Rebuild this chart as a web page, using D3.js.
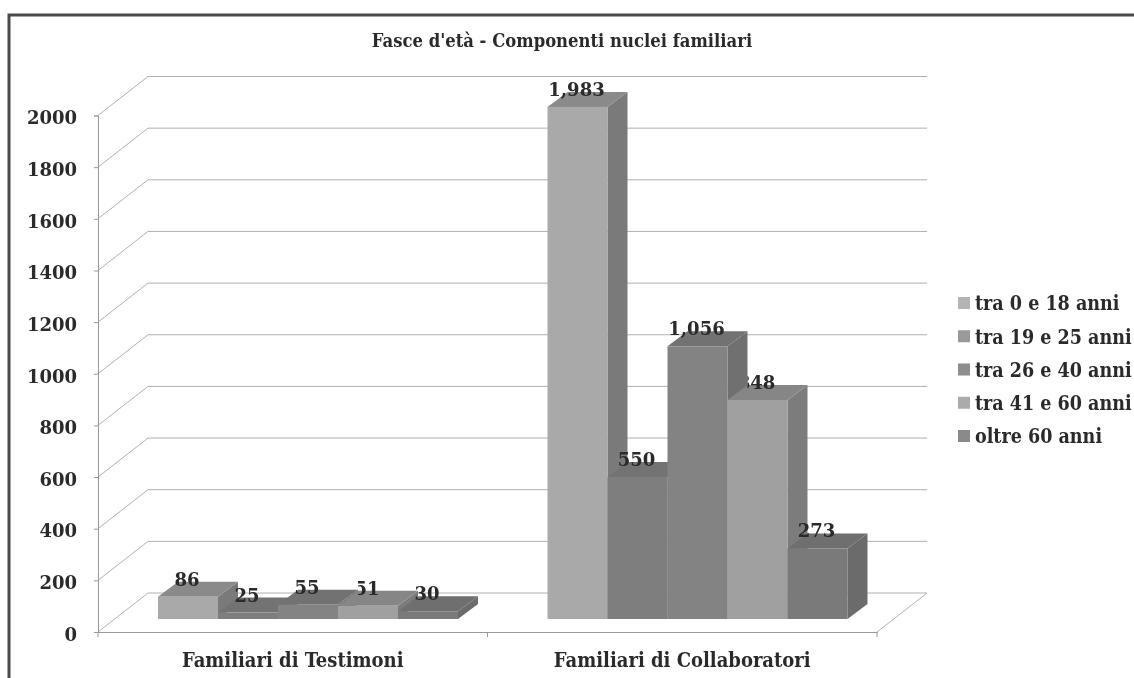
<!DOCTYPE html>
<html>
<head>
<meta charset="utf-8">
<script src="https://cdn.jsdelivr.net/npm/d3@7"></script>
<style>
  html, body { margin: 0; padding: 0; background: #fff; overflow: hidden; }
  svg { display: block; filter: blur(0.5px); }
  text { font-family: "DejaVu Serif", serif; font-weight: bold; fill: #2a2a2a; }
</style>
</head>
<body>
<script>
var categories = ["Familiari di Testimoni", "Familiari di Collaboratori"];
var seriesNames = ["tra 0 e 18 anni", "tra 19 e 25 anni", "tra 26 e 40 anni", "tra 41 e 60 anni", "oltre 60 anni"];
var testimoni = [86, 25, 55, 51, 30];
var collaboratori = [1983, 550, 1056, 848, 273];
var seriesColors = ["#a9a9a9", "#7e7e7e", "#838383", "#a0a0a0", "#7a7a7a"];
var topColors = ["#8a8a8a", "#737373", "#727272", "#868686", "#6f6f6f"];
var sideColors = ["#7a7a7a", "#6f6f6f", "#707070", "#7c7c7c", "#6b6b6b"];
var legendColors = ["#b4b4b4", "#9a9a9a", "#8e8e8e", "#ababab", "#8a8a8a"];
var yTicks = d3.range(0, 2001, 200);

var width = 1134, height = 678;

// wall depth and bar depth of the fake 3D box
var wall = { dx: 50, dy: -39 };
var bar = { dx: 20, dy: -15 };
var floorGap = { dx: 60, dy: -13 };
var condensed = "'DejaVu Serif Condensed', 'DejaVu Serif', serif";

var svg = d3.select("body").append("svg")
    .attr("width", width)
    .attr("height", height);

// scanned page border, top and left only
svg.append("path")
    .attr("d", "M9,678V15H1134")
    .attr("fill", "none")
    .attr("stroke", "#4a4a4a")
    .attr("stroke-width", 3);

svg.append("text")
    .attr("x", 562)
    .attr("y", 47)
    .attr("text-anchor", "middle")
    .attr("font-size", 18.3)
    .style("font-family", condensed)
    .text("Fasce d'età - Componenti nuclei familiari");

var y = d3.scaleLinear().domain([0, 2000]).range([632, 115.5]);
var x0 = d3.scaleBand().domain(categories).range([98, 877]);
var x1 = d3.scaleBand().domain(seriesNames).range([0, 300]);

// walls and gridlines
var grid = svg.append("g")
    .attr("fill", "none")
    .attr("stroke", "#b0b0b0")
    .attr("stroke-width", 1);

grid.selectAll("path")
    .data(yTicks)
    .join("path")
    .attr("d", function (d) {
        var p = d3.path();
        p.moveTo(x0.range()[0], y(d));
        p.lineTo(x0.range()[0] + wall.dx, y(d) + wall.dy);
        p.lineTo(x0.range()[1] + wall.dx, y(d) + wall.dy);
        return p.toString();
    });

grid.append("path")
    .attr("d", function () {
        var p = d3.path();
        p.moveTo(x0.range()[1], y(0));
        p.lineTo(x0.range()[1] + wall.dx, y(0) + wall.dy);
        return p.toString();
    });

// axes
var yAxis = d3.axisLeft(y).tickValues(yTicks).tickSize(4).tickPadding(17).tickFormat(d3.format("d"));
var gy = svg.append("g")
    .attr("transform", "translate(" + x0.range()[0] + ",0)")
    .call(yAxis);
gy.select(".domain").attr("stroke", "#999");
gy.selectAll(".tick line").attr("stroke", "#999");
gy.selectAll("text")
    .attr("font-size", 18)
    .attr("dy", "0.46em")
    .style("font-family", "'DejaVu Serif', serif");

var xAxis = d3.axisBottom(x0).tickSize(0).tickPadding(21);
var gx = svg.append("g")
    .attr("transform", "translate(0," + y(0) + ")")
    .call(xAxis);
gx.select(".domain").attr("stroke", "#999");
gx.selectAll("text")
    .attr("font-size", 20)
    .style("font-family", condensed);

svg.append("g")
    .attr("stroke", "#999")
    .selectAll("line")
    .data([x0.range()[0], x0.range()[0] + x0.bandwidth(), x0.range()[1]])
    .join("line")
    .attr("x1", function (d) { return d; })
    .attr("x2", function (d) { return d; })
    .attr("y1", y(0))
    .attr("y2", y(0) + 5);

// one row per bar
var rows = [];
categories.forEach(function (c, ci) {
    var values = ci === 0 ? testimoni : collaboratori;
    values.forEach(function (v, i) {
        rows.push({ cat: c, name: seriesNames[i], index: i, value: v, prev: i > 0 ? values[i - 1] : 0 });
    });
});

function left(d) { return x0(d.cat) + floorGap.dx + x1(d.name); }
function topY(d) { return y(d.value) + floorGap.dy; }
function baseY() { return y(0) + floorGap.dy; }

var bars = svg.append("g").selectAll("g")
    .data(rows)
    .join("g");

bars.append("path") // side
    .attr("fill", function (d) { return sideColors[d.index]; })
    .attr("d", function (d) {
        var r = left(d) + x1.bandwidth();
        return "M" + r + "," + topY(d) +
            "L" + (r + bar.dx) + "," + (topY(d) + bar.dy) +
            "L" + (r + bar.dx) + "," + (baseY() + bar.dy) +
            "L" + r + "," + baseY() + "Z";
    });

bars.append("path") // top
    .attr("fill", function (d) { return topColors[d.index]; })
    .attr("d", function (d) {
        var l = left(d), r = l + x1.bandwidth();
        return "M" + l + "," + topY(d) +
            "L" + (l + bar.dx) + "," + (topY(d) + bar.dy) +
            "L" + (r + bar.dx) + "," + (topY(d) + bar.dy) +
            "L" + r + "," + topY(d) + "Z";
    });

bars.append("rect") // front
    .attr("x", left)
    .attr("y", topY)
    .attr("width", x1.bandwidth())
    .attr("height", function (d) { return baseY() - topY(d); })
    .attr("fill", function (d) { return seriesColors[d.index]; });

// the 4th series label runs behind the side of the taller bar before it
var defs = svg.append("defs");
rows.forEach(function (d, i) {
    if (d.index === 3 && d.prev > d.value) {
        d.clip = "lab" + i;
        defs.append("clipPath").attr("id", d.clip)
            .append("rect")
            .attr("x", left(d) + bar.dx)
            .attr("y", 0)
            .attr("width", x1.bandwidth())
            .attr("height", height);
    }
});

svg.append("g").selectAll("text")
    .data(rows)
    .join("text")
    .attr("x", function (d) { return left(d) + x1.bandwidth() / 2 - 1; })
    .attr("y", function (d) { return topY(d) + bar.dy + 4; })
    .attr("text-anchor", "middle")
    .attr("font-size", 18)
    .attr("clip-path", function (d) { return d.clip ? "url(#" + d.clip + ")" : null; })
    .text(function (d) { return d3.format(",")(d.value); });

// legend
var legendY = d3.scalePoint().domain(seriesNames).range([303, 436]);
var legend = svg.append("g").selectAll("g")
    .data(seriesNames)
    .join("g")
    .attr("transform", function (d) { return "translate(958," + legendY(d) + ")"; });

legend.append("rect")
    .attr("x", 0)
    .attr("y", -6)
    .attr("width", 12)
    .attr("height", 12)
    .attr("fill", function (d, i) { return legendColors[i]; });

legend.append("text")
    .attr("x", 17)
    .attr("dy", "0.38em")
    .attr("font-size", 19.5)
    .style("font-family", condensed)
    .text(function (d) { return d; });
</script>
</body>
</html>
